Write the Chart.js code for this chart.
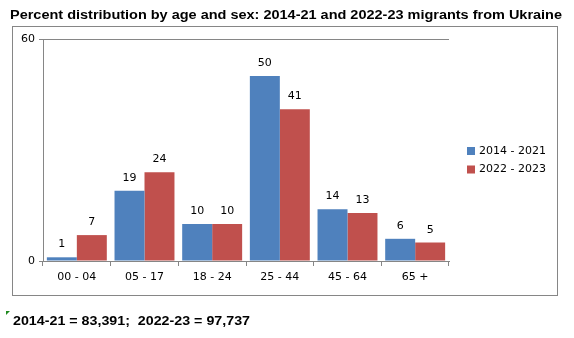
<!DOCTYPE html>
<html>
<head>
<meta charset="utf-8">
<script src="https://cdn.jsdelivr.net/npm/chart.js"></script>
<style>
  html, body { margin: 0; padding: 0; background: #fff; }
  #wrap { width: 574px; height: 338px; position: relative; }
</style>
</head>
<body>
<div id="wrap"><canvas id="ageChart" width="574" height="338"></canvas></div>
<script>
const ageGroups = ["00 - 04", "05 - 17", "18 - 24", "25 - 44", "45 - 64", "65 +"];
const seriesNames = ["2014 - 2021", "2022 - 2023"];
const values2014 = [1, 19, 10, 50, 14, 6];
const values2022 = [7, 24, 10, 41, 13, 5];
const yTicks = [0, 60];

const titleText = "Percent distribution by age and sex: 2014-21 and 2022-23 migrants from Ukraine";
const noteText = "2014-21 = 83,391;  2022-23 = 97,737";

const axisGray = "#868686";
const labelFont = "11px 'DejaVu Sans'";

// draw text squeezed/stretched to a given width (the original uses a wide bold face)
function fitText(ctx, text, x, y, width) {
  const w = ctx.measureText(text).width;
  ctx.save();
  ctx.translate(x, y);
  ctx.scale(width / w, 1);
  ctx.fillText(text, 0, 0);
  ctx.restore();
}

// title, frame, legend, value labels and footnote
const decorations = {
  id: "decorations",
  beforeDraw(chart) {
    const ctx = chart.ctx;
    ctx.save();
    ctx.fillStyle = "#fff";
    ctx.fillRect(0, 0, chart.width, chart.height);
    ctx.strokeStyle = axisGray;
    ctx.lineWidth = 1;
    ctx.strokeRect(12.5, 26.5, 545, 269);
    ctx.restore();
  },
  afterDraw(chart) {
    const ctx = chart.ctx;
    ctx.save();
    ctx.fillStyle = "#000";
    ctx.font = "bold 12px 'Liberation Sans'";
    ctx.textBaseline = "alphabetic";
    fitText(ctx, titleText, 10, 18.5, 552);

    // value labels above the bars
    ctx.font = labelFont;
    ctx.textAlign = "center";
    ctx.textBaseline = "alphabetic";
    chart.data.datasets.forEach((ds, i) => {
      chart.getDatasetMeta(i).data.forEach((bar, j) => {
        ctx.fillText(String(ds.data[j]), bar.x, bar.y - 10);
      });
    });

    // legend
    ctx.textAlign = "left";
    ctx.textBaseline = "middle";
    chart.data.datasets.forEach((ds, i) => {
      const y = 151 + i * 18.5;
      ctx.fillStyle = ds.backgroundColor;
      ctx.fillRect(467, y - 4, 8, 8);
      ctx.fillStyle = "#000";
      ctx.fillText(ds.label, 479, y);
    });

    // footnote with the little green corner marker
    ctx.font = "bold 12.5px 'Liberation Sans'";
    ctx.textBaseline = "alphabetic";
    fitText(ctx, noteText, 13, 324.5, 237);
    ctx.fillStyle = "#1f8a1f";
    ctx.beginPath();
    ctx.moveTo(6, 311);
    ctx.lineTo(10, 311);
    ctx.lineTo(6, 315);
    ctx.closePath();
    ctx.fill();
    ctx.restore();
  }
};

new Chart(document.getElementById("ageChart"), {
  type: "bar",
  data: {
    labels: ageGroups,
    datasets: [
      { label: seriesNames[0], data: values2014, backgroundColor: "#4F81BD" },
      { label: seriesNames[1], data: values2022, backgroundColor: "#C0504D" }
    ]
  },
  options: {
    responsive: false,
    animation: false,
    categoryPercentage: 0.886,
    barPercentage: 1,
    layout: { padding: { left: 12, right: 125, top: 39, bottom: 0 } },
    plugins: {
      legend: { display: false },
      tooltip: { enabled: false }
    },
    scales: {
      x: {
        grid: {
          display: true,
          offset: true,
          drawOnChartArea: false,
          drawTicks: true,
          tickLength: 5,
          color: axisGray
        },
        border: { display: true, color: axisGray },
        ticks: { color: "#000", font: { family: "DejaVu Sans", size: 11 }, padding: 5 },
        afterFit: (s) => { s.height = 77; }
      },
      y: {
        min: 0,
        max: 60,
        afterBuildTicks: (s) => { s.ticks = yTicks.map((v) => ({ value: v })); },
        grid: { color: axisGray, tickLength: 4 },
        border: { display: true, color: axisGray },
        ticks: { color: "#000", font: { family: "DejaVu Sans", size: 11 }, padding: 4 },
        afterFit: (s) => { s.width = 31; }
      }
    }
  },
  plugins: [decorations]
});
</script>
</body>
</html>
